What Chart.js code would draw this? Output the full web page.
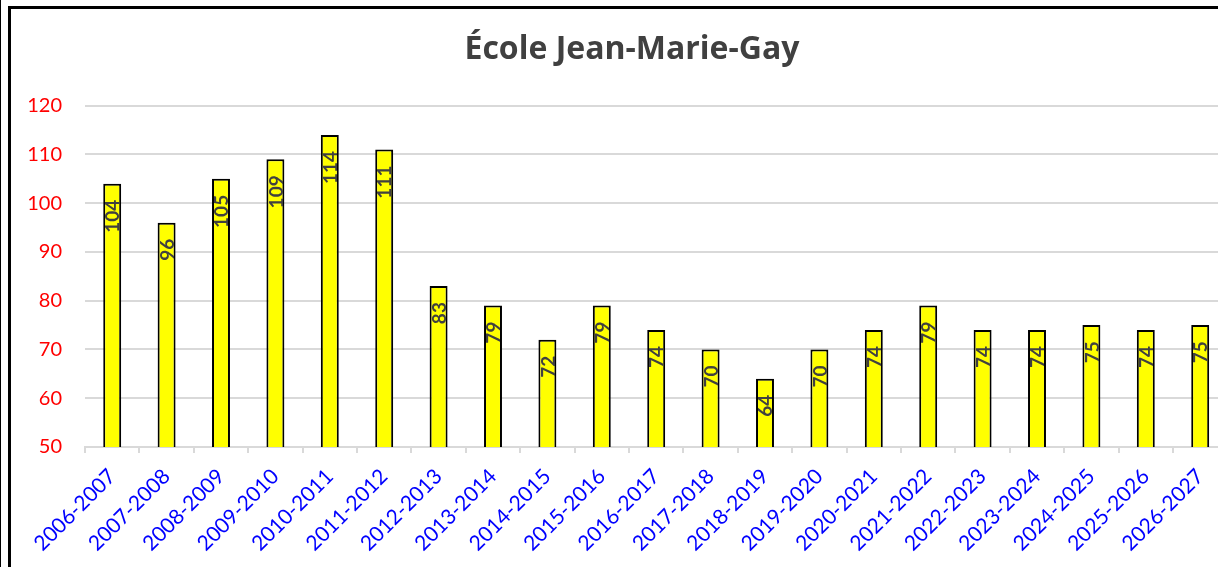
<!DOCTYPE html>
<html><head><meta charset="utf-8">
<script src="https://cdn.jsdelivr.net/npm/chart.js@4"></script>
<style>
html,body{margin:0;padding:0;width:1218px;height:567px;overflow:hidden;background:#fff;}
#edge{position:absolute;left:0;top:0;width:1px;height:567px;background:#000;}
#frame{position:absolute;left:8px;top:6px;width:1248px;height:580px;border:3px solid #000;box-sizing:border-box;background:#fff;}
#c{display:block;}
</style></head><body>
<div id="edge"></div>
<div id="frame"><canvas id="c" width="1242" height="574"></canvas></div>
<script>
const title = 'École Jean-Marie-Gay';
const categories = ['2006-2007','2007-2008','2008-2009','2009-2010','2010-2011','2011-2012','2012-2013','2013-2014','2014-2015','2015-2016','2016-2017','2017-2018','2018-2019','2019-2020','2020-2021','2021-2022','2022-2023','2023-2024','2024-2025','2025-2026','2026-2027'];
const values = [104,96,105,109,114,111,83,79,72,79,74,70,64,70,74,79,74,74,75,74,75];
const yMin = 50, yMax = 120, yStep = 10;

const barLabels = {
  id: 'barLabels',
  afterDatasetsDraw(chart) {
    const ctx = chart.ctx;
    const meta = chart.getDatasetMeta(0);
    ctx.save();
    ctx.font = 'bold 19px Lato';
    ctx.fillStyle = '#404040';
    ctx.textAlign = 'right';
    ctx.textBaseline = 'middle';
    meta.data.forEach((bar, i) => {
      ctx.save();
      ctx.translate(bar.x, bar.y);
      ctx.rotate(-Math.PI / 2);
      ctx.fillText(String(values[i]), -16, 1);
      ctx.restore();
    });
    ctx.restore();
  }
};

function draw() {
  new Chart(document.getElementById('c'), {
    type: 'bar',
    data: {
      labels: categories,
      datasets: [{
        data: values,
        backgroundColor: '#ffff00',
        borderColor: '#000000',
        borderWidth: 2,
        barPercentage: 0.33,
        categoryPercentage: 1
      }]
    },
    options: {
      responsive: false,
      devicePixelRatio: 1,
      animation: false,
      layout: { padding: { left: 0, right: 0, top: 0, bottom: 0 } },
      plugins: {
        legend: { display: false },
        tooltip: { enabled: false },
        title: {
          display: true,
          text: title,
          color: '#404040',
          font: { family: 'Open Sans', size: 32, weight: 'bold', lineHeight: 1.2 },
          padding: { top: 22, bottom: 36.3 }
        }
      },
      scales: {
        x: {
          afterFit(s) { s.height = 136; },
          grid: { drawOnChartArea: false, drawTicks: true, tickLength: 6, color: '#d9d9d9', lineWidth: 2, offset: true },
          border: { color: '#d9d9d9', width: 2 },
          ticks: { color: '#0000ff', font: { family: 'Lato', size: 21 }, maxRotation: 45, minRotation: 45, autoSkip: false, padding: 11 }
        },
        y: {
          min: yMin, max: yMax,
          afterFit(s) { s.width = 74; },
          grid: { color: '#d9d9d9', lineWidth: 2, drawTicks: false },
          border: { display: false },
          ticks: { stepSize: yStep, color: '#ff0000', font: { family: 'Lato', size: 20 }, padding: 23 }
        },
        spacer: {
          type: 'linear',
          position: 'right',
          min: yMin, max: yMax,
          afterFit(s) { s.width = 25.6; },
          grid: { display: false },
          border: { display: false },
          ticks: { display: false }
        }
      }
    },
    plugins: [barLabels]
  });
}
Promise.all([
  document.fonts.load('20px Lato'),
  document.fonts.load('bold 19px Lato'),
  document.fonts.load('bold 32px "Open Sans"')
]).then(draw, draw);
</script>
</body></html>
